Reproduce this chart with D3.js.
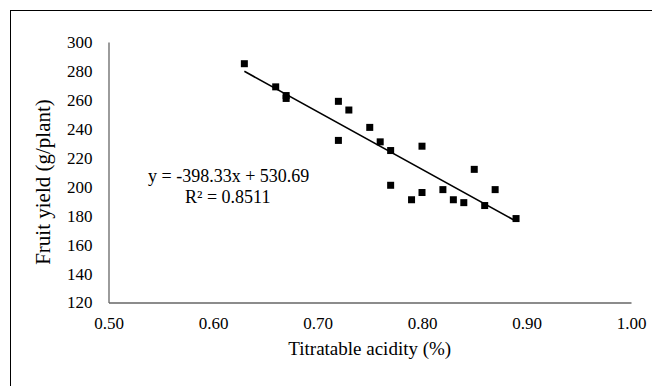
<!DOCTYPE html>
<html>
<head>
<meta charset="utf-8">
<script src="https://cdn.jsdelivr.net/npm/d3@7"></script>
<style>
  body { margin: 0; background: #fff; }
  text { font-family: "Liberation Serif", "Times New Roman", "DejaVu Serif", serif; fill: #000; }
</style>
</head>
<body>
<svg id="chart" width="652" height="386"></svg>
<script>
// titratable acidity (%) vs fruit yield (g/plant)
const acidity = [0.63, 0.66, 0.67, 0.67, 0.72, 0.73, 0.72, 0.75, 0.76, 0.77, 0.80,
                 0.77, 0.79, 0.80, 0.82, 0.83, 0.84, 0.85, 0.86, 0.87, 0.89];
const fruitYield = [285, 269, 263, 261, 259, 253, 232, 241, 231, 225, 228,
                    201, 191, 196, 198, 191, 189, 212, 187, 198, 178];
const xTicks = [0.5, 0.6, 0.7, 0.8, 0.9, 1.0];
const yTicks = [120, 140, 160, 180, 200, 220, 240, 260, 280, 300];
// linear trendline coefficients
const slope = -398.33;
const intercept = 530.69;
const rSquared = 0.8511;

const serif = "'Liberation Serif', 'Times New Roman', 'DejaVu Serif', serif";
const svg = d3.select("#chart");

// outer chart border (runs off the right and bottom edge)
svg.append("rect")
   .attr("x", 10.5).attr("y", 10.5)
   .attr("width", 700).attr("height", 420)
   .attr("fill", "none").attr("stroke", "#000").attr("stroke-width", 1);

const x = d3.scaleLinear().domain([0.5, 1.0]).range([108.5, 631]);
const y = d3.scaleLinear().domain([120, 300]).range([302.5, 42]);

// axes, no tick marks
const xAxis = svg.append("g")
  .attr("transform", "translate(0," + y(120) + ")")
  .call(d3.axisBottom(x).tickValues(xTicks).tickSize(0).tickPadding(14).tickFormat(d3.format(".2f")));
const yAxis = svg.append("g")
  .attr("transform", "translate(" + x(0.5) + ",0)")
  .call(d3.axisLeft(y).tickValues(yTicks).tickSize(0).tickPadding(16));

[xAxis, yAxis].forEach(g => {
  g.attr("font-family", serif).attr("font-size", 17);
  g.select(".domain").attr("stroke", "#666").attr("stroke-width", 1.3);
  g.selectAll("text").style("font-family", serif).style("font-size", "17px").attr("fill", "#000");
});

// trendline across the data range
const xs = d3.extent(acidity);
svg.append("line")
   .attr("x1", x(xs[0])).attr("y1", y(slope * xs[0] + intercept))
   .attr("x2", x(xs[1])).attr("y2", y(slope * xs[1] + intercept))
   .attr("stroke", "#000").attr("stroke-width", 1.6);

// square markers
const pts = acidity.map((a, i) => ({a: a, v: fruitYield[i]}));
const size = 7;
svg.selectAll(".pt")
   .data(pts)
   .join("rect")
   .attr("class", "pt")
   .attr("x", d => x(d.a) - size / 2)
   .attr("y", d => y(d.v) - size / 2)
   .attr("width", size).attr("height", size)
   .attr("fill", "#000");

// trendline label
svg.append("text")
   .attr("x", 148).attr("y", 182)
   .style("font-family", serif).style("font-size", "18px")
   .text("y = " + slope + "x + " + intercept);
svg.append("text")
   .attr("x", 185).attr("y", 203)
   .style("font-family", serif).style("font-size", "18px")
   .text("R\u00B2 = " + rSquared);

// axis titles
svg.append("text")
   .attr("x", (x(0.5) + x(1.0)) / 2).attr("y", 355)
   .attr("text-anchor", "middle")
   .style("font-family", serif).style("font-size", "19px")
   .text("Titratable acidity (%)");
svg.append("text")
   .attr("transform", "translate(50,182) rotate(-90)")
   .attr("text-anchor", "middle")
   .style("font-family", serif).style("font-size", "21px")
   .text("Fruit yield (g/plant)");
</script>
</body>
</html>
